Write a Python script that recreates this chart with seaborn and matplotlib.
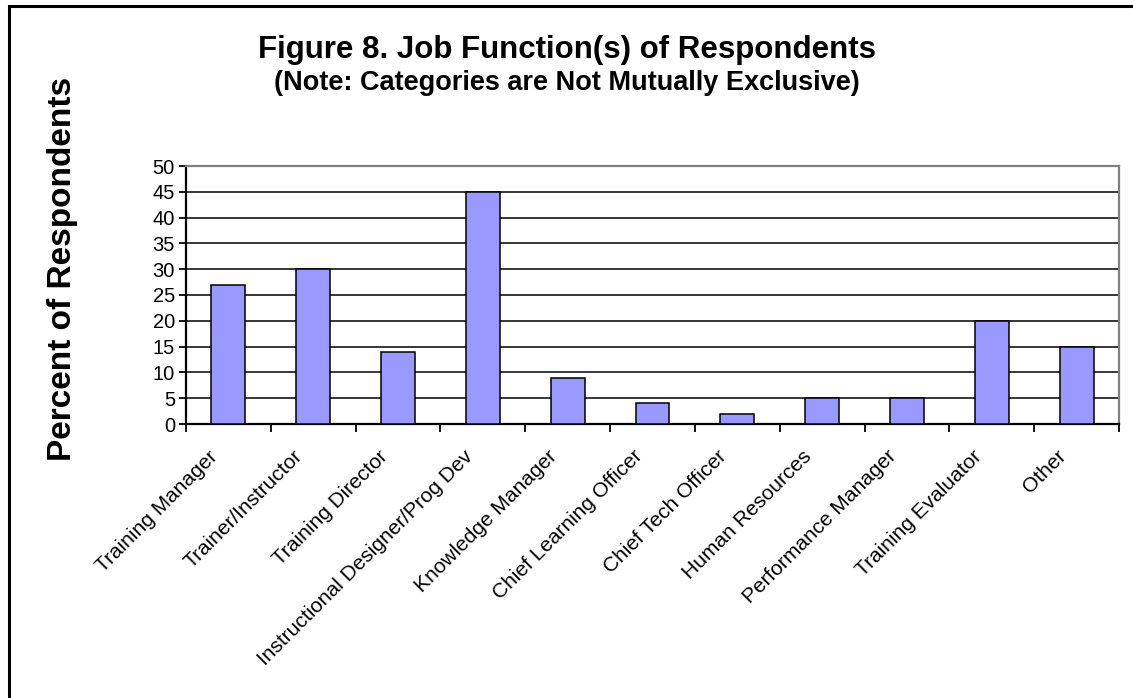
import matplotlib
matplotlib.use("Agg")
import matplotlib.pyplot as plt
import matplotlib.transforms as mtransforms
import seaborn as sns
import pandas as pd
import numpy as np
from matplotlib.patches import Rectangle

categories = ["Training Manager", "Trainer/Instructor", "Training Director",
              "Instructional Designer/Prog Dev", "Knowledge Manager",
              "Chief Learning Officer", "Chief Tech Officer", "Human Resources",
              "Performance Manager", "Training Evaluator", "Other"]
values = [27, 30, 14, 45, 9, 4, 2, 5, 5, 20, 15]
yticks = [0, 5, 10, 15, 20, 25, 30, 35, 40, 45, 50]

sns.set_theme(style="white")
plt.rcParams['font.family'] = ['Liberation Sans', 'DejaVu Sans']
plt.rcParams['text.color'] = 'black'

df = pd.DataFrame({"category": categories, "value": values})

fig = plt.figure(figsize=(11.33, 6.98), dpi=100)
ax = fig.add_axes([186/1133, 1-424/698, (1119-186)/1133, (424-166)/698])

sns.barplot(data=df, x="category", y="value", color="#9999FF", saturation=1,
            edgecolor="black", linewidth=1.1, width=0.4, errorbar=None, ax=ax, zorder=3)

ax.set_ylim(0, 50)
ax.set_xlim(-0.5, len(categories) - 0.5)
ax.set_yticks(yticks)
ax.set_yticklabels([str(v) for v in yticks], fontsize=14.5, color="black")
for v in yticks[1:-1]:
    ax.axhline(v, color="black", linewidth=1.1, zorder=1)

ax.set_xticks(np.arange(-0.5, len(categories)), minor=True)
ax.tick_params(axis="x", which="major", length=0, pad=12)
ax.tick_params(axis="x", which="minor", length=6, width=1.3, color="black", direction="out", bottom=True)
ax.tick_params(axis="y", which="major", length=5, width=1.3, color="black", direction="out", left=True, pad=3)

ax.set_xticks(range(len(categories)))
ax.set_xticklabels(categories, rotation=45, ha="right", rotation_mode="anchor",
                   fontsize=15, color="black")
offset = mtransforms.ScaledTranslation(-20/100, -6/100, fig.dpi_scale_trans)
for lab in ax.get_xticklabels():
    lab.set_transform(lab.get_transform() + offset)

ax.set_xlabel("")
ax.set_ylabel("")
for s in ["left", "bottom"]:
    ax.spines[s].set_color("black")
    ax.spines[s].set_linewidth(1.6)
for s in ["top", "right"]:
    ax.spines[s].set_color("#808080")
    ax.spines[s].set_linewidth(1.6)

fig.text(567/1133, 1-50/698, "Figure 8. Job Function(s) of Respondents",
         ha="center", va="center", fontsize=22.5, fontweight="bold", color="black")
fig.text(567/1133, 1-83/698, "(Note: Categories are Not Mutually Exclusive)",
         ha="center", va="center", fontsize=19.5, fontweight="bold", color="black")
fig.text(63/1133, 1-269/698, "Percent of Respondents", rotation=90,
         ha="center", va="center", fontsize=24, fontweight="bold", color="black")

fig.patches.append(Rectangle((9/1133, -0.1), 1.2, 1-6/698 + 0.1,
                             transform=fig.transFigure, fill=False,
                             edgecolor="black", linewidth=2.2))

fig.savefig("out.png", dpi=100)
